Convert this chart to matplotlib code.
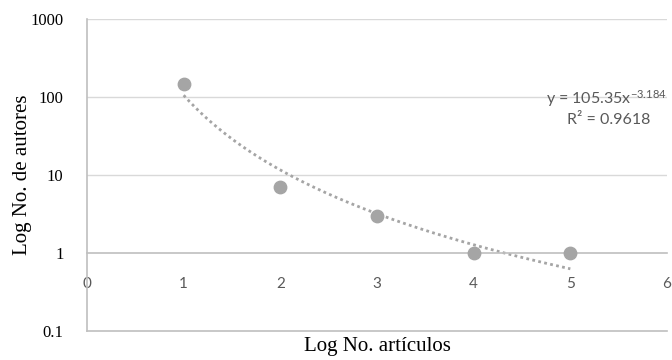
import numpy as np
import matplotlib
matplotlib.use("Agg")
import matplotlib.pyplot as plt

# datos
articulos = [1, 2, 3, 4, 5]
autores = [145, 7, 3, 1, 1]

# linea de tendencia potencial (Excel)
coef_a = 105.35
coef_b = -3.184
r2 = 0.9618

xticks = [0, 1, 2, 3, 4, 5, 6]
yticks = [0.1, 1, 10, 100, 1000]
ytick_labels = ["0.1", "1", "10", "100", "1000"]

gris = "#A5A5A5"
gris_eje = "#BFBFBF"
gris_grid = "#D9D9D9"
gris_txt = "#595959"
serif = ["Liberation Serif", "DejaVu Serif"]
sans = ["Lato", "DejaVu Sans"]

plt.rcParams["mathtext.fontset"] = "custom"
plt.rcParams["mathtext.rm"] = "Lato"
plt.rcParams["mathtext.it"] = "Lato"

fig = plt.figure(figsize=(6.72, 3.6), dpi=100)
ax = fig.add_axes([87 / 672, 29 / 360, 580 / 672, 312 / 360])

ax.set_yscale("log")
ax.set_xlim(0, 6)
ax.set_ylim(0.1, 1000)

for y in [10, 100, 1000]:
    ax.axhline(y, color=gris_grid, lw=1.0, zorder=0)
ax.axhline(0.1, color=gris_eje, lw=1.2, zorder=1, clip_on=False)

for s in ["top", "right"]:
    ax.spines[s].set_visible(False)
ax.spines["left"].set_color(gris_eje)
ax.spines["left"].set_linewidth(1.2)
ax.spines["bottom"].set_position(("data", 1))
ax.spines["bottom"].set_color(gris_eje)
ax.spines["bottom"].set_linewidth(1.2)

ax.set_yticks(yticks)
ax.set_yticklabels(ytick_labels, fontfamily=serif, fontsize=12, color="#000000")
ax.yaxis.set_minor_locator(matplotlib.ticker.NullLocator())
ax.tick_params(axis="y", length=0, pad=17)

ax.set_xticks(xticks)
ax.set_xticklabels([str(t) for t in xticks], fontfamily=sans, fontsize=11, color=gris_txt)
ax.tick_params(axis="x", length=0, pad=17)

# tendencia
xt = np.linspace(articulos[0], articulos[-1], 200)
ax.plot(xt, coef_a * xt ** coef_b, color=gris, lw=2, ls=(0, (1, 1.2)), zorder=2)

ax.scatter(articulos, autores, s=80, color=gris, zorder=3, clip_on=False)

ax.text(6.0, 95, r"y = 105.35x$^{\mathrm{-3.184}}$", ha="right", va="center",
        fontfamily=sans, fontsize=11.5, color=gris_txt, zorder=4)
ax.text(5.83, 51, "R² = 0.9618", ha="right", va="center",
        fontfamily=sans, fontsize=11.5, color=gris_txt, zorder=4)

ax.set_xlabel("Log No. artículos", fontfamily=serif, fontsize=15)
ax.xaxis.set_label_coords(0.5, -0.02)
ax.set_ylabel("Log No. de autores", fontfamily=serif, fontsize=15)
ax.yaxis.set_label_coords(-0.095, 0.5)

fig.savefig("out.png", dpi=100)
